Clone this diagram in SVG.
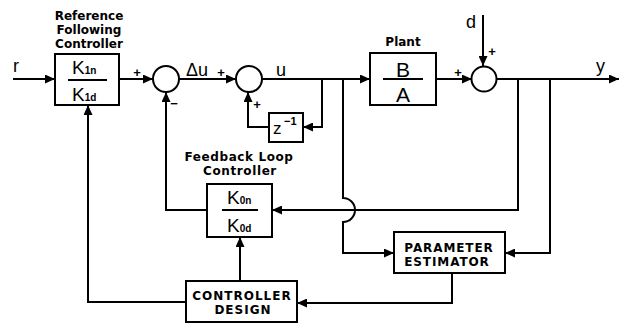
<svg xmlns="http://www.w3.org/2000/svg" width="621" height="324" viewBox="0 0 621 324">
<defs>
<marker id="ah" markerUnits="userSpaceOnUse" markerWidth="10" markerHeight="9" viewBox="0 0 10 9" refX="10" refY="4.5" orient="auto">
<path d="M0,0 L10,4.5 L0,9 z" fill="#000"/>
</marker>
</defs>
<style>
.box{fill:#fff;stroke:#000;stroke-width:2}
.sum{fill:#fff;stroke:#000;stroke-width:2}
.ln{fill:none;stroke:#000;stroke-width:2}
.ar{fill:none;stroke:#000;stroke-width:2;marker-end:url(#ah)}
.lbl{font-family:"DejaVu Sans","Liberation Sans",sans-serif;font-weight:bold;font-size:12px;text-anchor:middle}
.sig{font-family:"Liberation Sans",Arial,sans-serif;font-size:18px}
.k{font-family:"Liberation Sans",Arial,sans-serif;font-size:19px}
.sub{font-family:"Liberation Sans",Arial,sans-serif;font-size:10px;font-weight:bold}
.pm{font-family:"Liberation Sans",Arial,sans-serif;font-size:13px;font-weight:bold;text-anchor:middle}
</style>
<g id="connectors">
<path class="ar" d="M13,79 H55"/>
<path class="ar" d="M119,79 H153"/>
<path class="ar" d="M179,79 H236"/>
<path class="ar" d="M262,79 H370"/>
<path class="ar" d="M436,79 H472"/>
<path class="ar" d="M497,79 H619"/>
<path class="ar" d="M483,15 V66"/>
<path class="ar" d="M322,79 V127 H303"/>
<path class="ar" d="M269,127 H248 V92"/>
<path class="ar" d="M518,79 V210 H272"/>
<path class="ar" d="M550,79 V253 H505"/>
<path class="ar" d="M343,79 V198 A12,12 0 0 1 343,222 V253 H394"/>
<path class="ar" d="M207,210 H166 V92"/>
<path class="ar" d="M452,273 V303 H297"/>
<path class="ar" d="M240,281 V237"/>
<path class="ar" d="M186,302 H88 V105"/>
</g>
<g id="signals">
<text class="sig" x="13" y="72">r</text>
<text class="sig" x="186" y="76">Δu</text>
<text class="sig" x="276" y="76">u</text>
<text class="sig" x="466" y="28">d</text>
<text class="sig" x="596" y="72">y</text>
<text class="pm" x="137" y="77">+</text>
<text class="pm" x="174" y="108">−</text>
<text class="pm" x="221" y="77">+</text>
<text class="pm" x="257" y="109">+</text>
<text class="pm" x="458" y="77">+</text>
<text class="pm" x="492" y="56">+</text>
</g>
<g id="ref-controller">
<text class="lbl" x="89" y="20">Reference</text>
<text class="lbl" x="89" y="34">Following</text>
<text class="lbl" x="89" y="48">Controller</text>
<rect class="box" x="55" y="54" width="64" height="51"/>
<line class="ln" x1="68" y1="80" x2="107" y2="80"/>
<text class="k" x="72" y="74">K<tspan class="sub">1n</tspan></text>
<text class="k" x="72" y="101">K<tspan class="sub">1d</tspan></text>
</g>
<g id="sum1"><circle class="sum" cx="166" cy="79" r="13"/></g>
<g id="sum2"><circle class="sum" cx="249" cy="79" r="13"/></g>
<g id="delay">
<rect class="box" x="269" y="113" width="34" height="29"/>
<text class="k" x="273" y="134" style="font-size:17px">z</text>
<text class="sub" x="284" y="125" style="font-size:11px">−1</text>
</g>
<g id="plant">
<text class="lbl" x="403" y="46">Plant</text>
<rect class="box" x="370" y="53" width="66" height="52"/>
<line class="ln" x1="383" y1="79" x2="423" y2="79"/>
<text class="k" x="403" y="77" text-anchor="middle" style="font-size:21px">B</text>
<text class="k" x="403" y="102" text-anchor="middle" style="font-size:21px">A</text>
</g>
<g id="sum3"><circle class="sum" cx="484" cy="79" r="12.5"/></g>
<g id="fb-controller">
<text class="lbl" x="239" y="161" style="letter-spacing:0.6px">Feedback Loop</text>
<text class="lbl" x="240" y="175" style="letter-spacing:0.6px">Controller</text>
<rect class="box" x="207" y="184" width="65" height="53"/>
<line class="ln" x1="222" y1="210" x2="258" y2="210"/>
<text class="k" x="227" y="204">K<tspan class="sub">0n</tspan></text>
<text class="k" x="227" y="232">K<tspan class="sub">0d</tspan></text>
</g>
<g id="param-estimator">
<rect class="box" x="394" y="232" width="111" height="41"/>
<text class="lbl" x="449" y="252" style="letter-spacing:0.9px">PARAMETER</text>
<text class="lbl" x="447" y="266" style="letter-spacing:0.9px">ESTIMATOR</text>
</g>
<g id="controller-design">
<rect class="box" x="186" y="281" width="111" height="41"/>
<text class="lbl" x="242" y="300" style="letter-spacing:1px">CONTROLLER</text>
<text class="lbl" x="243" y="314" style="letter-spacing:1px">DESIGN</text>
</g>
</svg>
